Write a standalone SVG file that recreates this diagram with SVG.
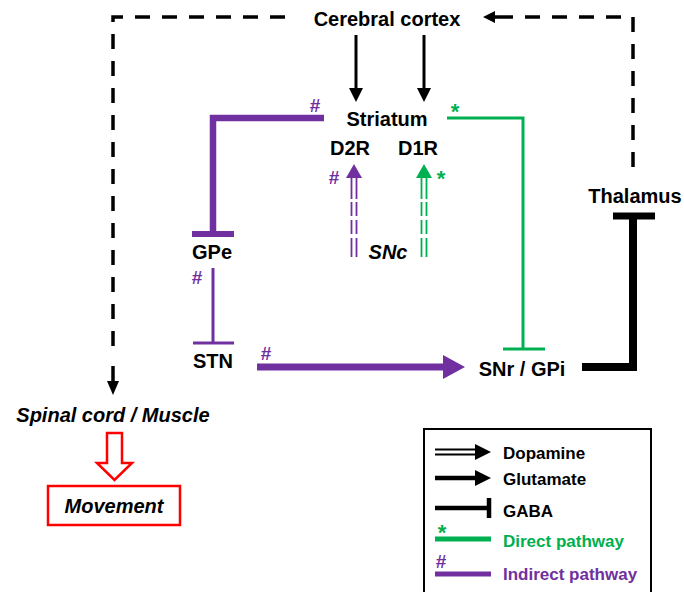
<svg xmlns="http://www.w3.org/2000/svg" width="684" height="592" viewBox="0 0 684 592">
<style>
text{font-family:"Liberation Sans",Arial,sans-serif;font-weight:bold;}
.lbl{font-size:20px;fill:#000;text-anchor:middle;}
.it{font-style:italic;}
.leg{font-size:17px;}
.mk{font-size:19px;text-anchor:middle;}
.ast{font-size:22px;}
.pu{fill:#7030A0;}
.gr{fill:#00B050;}
.dash{fill:none;stroke:#000;stroke-width:3.5;stroke-dasharray:15 12;}
.snc{stroke-width:1.8;stroke-dasharray:21 3 14 4 14 4 30;}
</style>
<rect width="684" height="592" fill="#fff"/>

<g id="cortex"><text class="lbl" x="387" y="26">Cerebral cortex</text></g>
<g id="striatum">
<text class="lbl" x="387" y="126">Striatum</text>
<text class="lbl" x="350" y="155">D2R</text>
<text class="lbl" x="418" y="155">D1R</text>
</g>
<g id="snc"><text class="lbl it" x="388" y="259">SNc</text></g>
<g id="gpe"><text class="lbl" x="212" y="259">GPe</text></g>
<g id="stn"><text class="lbl" x="213" y="368">STN</text></g>
<g id="snr"><text class="lbl" x="522" y="376">SNr / GPi</text></g>
<g id="thalamus"><text class="lbl" x="635" y="203">Thalamus</text></g>
<g id="spinal"><text class="lbl it" x="113" y="422">Spinal cord / Muscle</text></g>
<g id="movement">
<rect x="48" y="486" width="132" height="39" fill="#fff" stroke="#f00" stroke-width="2.5"/>
<text class="lbl it" x="114" y="513">Movement</text>
</g>

<g id="connectors">
<path class="dash" d="M285 17 H113 V357"/>
<line x1="113" y1="366" x2="113" y2="383" stroke="#000" stroke-width="3.5"/>
<polygon points="107,381 119,381 113,395" fill="#000"/>
<path class="dash" d="M633 167 V17 H510"/>
<line x1="510" y1="17" x2="494" y2="17" stroke="#000" stroke-width="3.5"/>
<polygon points="495,11 495,23 483,17" fill="#000"/>
<line x1="356" y1="35" x2="356" y2="90" stroke="#000" stroke-width="3"/>
<polygon points="349,88 363,88 356,102" fill="#000"/>
<line x1="424" y1="35" x2="424" y2="90" stroke="#000" stroke-width="3"/>
<polygon points="417,88 431,88 424,102" fill="#000"/>
<line class="snc" x1="351.5" y1="178" x2="351.5" y2="257" stroke="#7030A0"/>
<line class="snc" x1="356.5" y1="178" x2="356.5" y2="257" stroke="#7030A0"/>
<polygon points="354,164 346,178 362,178" fill="#7030A0"/>
<line class="snc" x1="421.5" y1="178" x2="421.5" y2="257" stroke="#00B050"/>
<line class="snc" x1="426.5" y1="178" x2="426.5" y2="257" stroke="#00B050"/>
<polygon points="424,164 416,178 432,178" fill="#00B050"/>
<path d="M324 118 H213 V233" fill="none" stroke="#7030A0" stroke-width="6.5"/>
<line x1="192" y1="234" x2="234" y2="234" stroke="#7030A0" stroke-width="6"/>
<line x1="213" y1="268" x2="213" y2="343" stroke="#7030A0" stroke-width="3"/>
<line x1="193" y1="343" x2="234" y2="343" stroke="#7030A0" stroke-width="3"/>
<line x1="257" y1="367" x2="445" y2="367" stroke="#7030A0" stroke-width="7"/>
<polygon points="443,355 465,367 443,379" fill="#7030A0"/>
<path d="M447 118 H523 V349" fill="none" stroke="#00B050" stroke-width="3"/>
<line x1="503" y1="349" x2="545" y2="349" stroke="#00B050" stroke-width="3"/>
<path d="M582 367 H633 V217" fill="none" stroke="#000" stroke-width="8"/>
<line x1="613" y1="216" x2="655" y2="216" stroke="#000" stroke-width="7"/>
<path d="M107 433 H122 V463 H132 L114.5 480 L97 463 H107 Z" fill="#fff" stroke="#f00" stroke-width="2.5"/>
<text class="mk pu" x="315" y="112">#</text>
<text class="mk gr ast" x="455" y="119">*</text>
<text class="mk pu" x="334" y="184">#</text>
<text class="mk gr ast" x="441" y="186">*</text>
<text class="mk pu" x="197" y="284">#</text>
<text class="mk pu" x="266" y="360">#</text>
</g>

<g id="legend">
<rect x="424" y="429" width="227" height="175" fill="none" stroke="#000" stroke-width="2"/>
<line x1="435" y1="449.5" x2="477" y2="449.5" stroke="#000" stroke-width="2"/>
<line x1="435" y1="454.5" x2="477" y2="454.5" stroke="#000" stroke-width="2"/>
<polygon points="475,444 491,452 475,460" fill="#000"/>
<text class="leg" x="503" y="459">Dopamine</text>
<line x1="435" y1="478" x2="477" y2="478" stroke="#000" stroke-width="4.5"/>
<polygon points="475,470 491,478 475,486" fill="#000"/>
<text class="leg" x="503" y="485">Glutamate</text>
<line x1="435" y1="508" x2="489" y2="508" stroke="#000" stroke-width="4.5"/>
<line x1="489" y1="498" x2="489" y2="518" stroke="#000" stroke-width="4.5"/>
<text class="leg" x="503" y="517">GABA</text>
<text class="mk gr ast" x="442" y="540">*</text>
<line x1="435" y1="539" x2="491" y2="539" stroke="#00B050" stroke-width="5"/>
<text class="leg gr" x="503" y="547">Direct pathway</text>
<text class="mk pu" x="441" y="568">#</text>
<line x1="435" y1="574" x2="491" y2="574" stroke="#7030A0" stroke-width="5"/>
<text class="leg pu" x="503" y="580">Indirect pathway</text>
</g>
</svg>
